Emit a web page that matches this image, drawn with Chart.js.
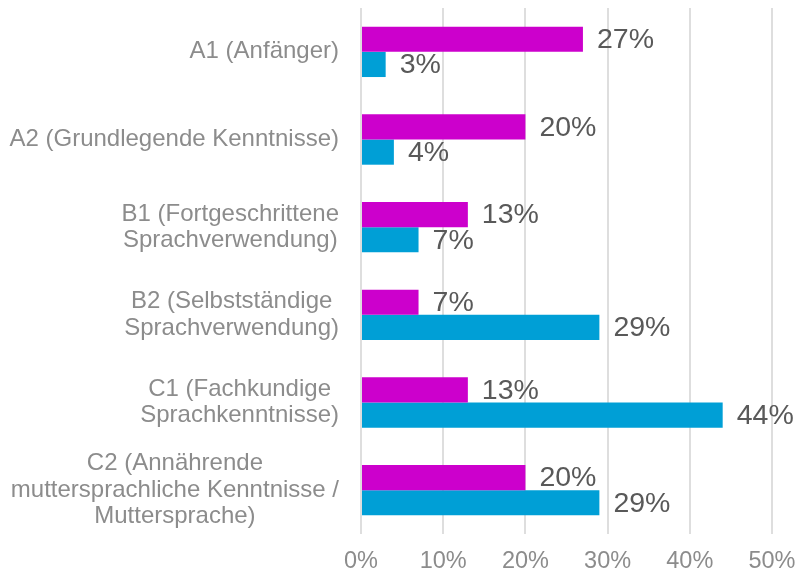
<!DOCTYPE html>
<html>
<head>
<meta charset="utf-8">
<script src="https://cdn.jsdelivr.net/npm/chart.js@4"></script>
<style>
  html, body { margin: 0; padding: 0; background: #fff; }
  #wrap { width: 800px; height: 571px; }
</style>
</head>
<body>
<div id="wrap"><canvas id="chart"></canvas></div>
<script>
const niveaus = [
    ['A1 (Anfänger)'],
    ['A2 (Grundlegende Kenntnisse)'],
    ['B1 (Fortgeschrittene', 'Sprachverwendung)'],
    ['B2 (Selbstständige', 'Sprachverwendung)'],
    ['C1 (Fachkundige', 'Sprachkenntnisse)'],
    ['C2 (Annährende', 'muttersprachliche Kenntnisse /', 'Muttersprache)']
];
const serieA = [27, 20, 13, 7, 13, 20];
const serieB = [3, 4, 7, 29, 44, 29];
const xTicks = [0, 10, 20, 30, 40, 50];

const FONT = '"Liberation Sans", Arial, sans-serif';

// Werte rechts neben den Balken + Kategorienbeschriftung (Zeilen zentriert, Block rechtsbündig)
const beschriftung = {
    id: 'beschriftung',
    afterDatasetsDraw(chart) {
        const ctx = chart.ctx;
        ctx.save();
        ctx.font = '28.5px ' + FONT;
        ctx.fillStyle = '#595959';
        ctx.textAlign = 'left';
        ctx.textBaseline = 'middle';
        chart.data.datasets.forEach((ds, i) => {
            chart.getDatasetMeta(i).data.forEach((bar, j) => {
                ctx.fillText(ds.data[j] + '%', bar.x + 14, bar.y + 1);
            });
        });

        const y = chart.scales.y;
        const rechts = chart.chartArea.left - 22;
        const zeile = 26.5;
        ctx.font = '24px ' + FONT;
        ctx.fillStyle = '#8c8c8c';
        ctx.textAlign = 'center';
        niveaus.forEach((lines, i) => {
            const breite = Math.max(...lines.map(l => ctx.measureText(l).width));
            const mitteX = rechts - breite / 2;
            const mitteY = y.getPixelForValue(i);
            const start = mitteY - (lines.length - 1) * zeile / 2;
            lines.forEach((l, k) => ctx.fillText(l, mitteX, start + k * zeile));
        });
        ctx.restore();
    }
};

new Chart(document.getElementById('chart').getContext('2d'), {
    type: 'bar',
    data: {
        labels: niveaus,
        datasets: [{
            label: 'Serie 1',
            data: serieA,
            backgroundColor: '#cc00cc'
        }, {
            label: 'Serie 2',
            data: serieB,
            backgroundColor: '#009fd6'
        }]
    },
    options: {
        indexAxis: 'y',
        responsive: true,
        maintainAspectRatio: false,
        animation: false,
        layout: { padding: { top: 8, right: 28, left: 0, bottom: 0 } },
        plugins: {
            legend: { display: false },
            tooltip: { enabled: false }
        },
        datasets: {
            bar: { barPercentage: 1, categoryPercentage: 0.575 }
        },
        scales: {
            x: {
                min: 0,
                max: 50,
                afterBuildTicks: s => { s.ticks = xTicks.map(v => ({ value: v })); },
                afterFit: s => { s.height = 37; s.paddingLeft = 0; s.paddingRight = 0; },
                grid: { color: '#dedede', lineWidth: 2, drawTicks: false },
                border: { display: false },
                ticks: {
                    padding: 13,
                    color: '#8c8c8c',
                    font: { family: FONT, size: 23.5 },
                    maxRotation: 0,
                    callback: v => v + '%'
                }
            },
            y: {
                afterFit: s => { s.width = 361; },
                grid: { display: false },
                border: { display: false },
                ticks: { display: false }
            }
        }
    },
    plugins: [beschriftung]
});
</script>
</body>
</html>
